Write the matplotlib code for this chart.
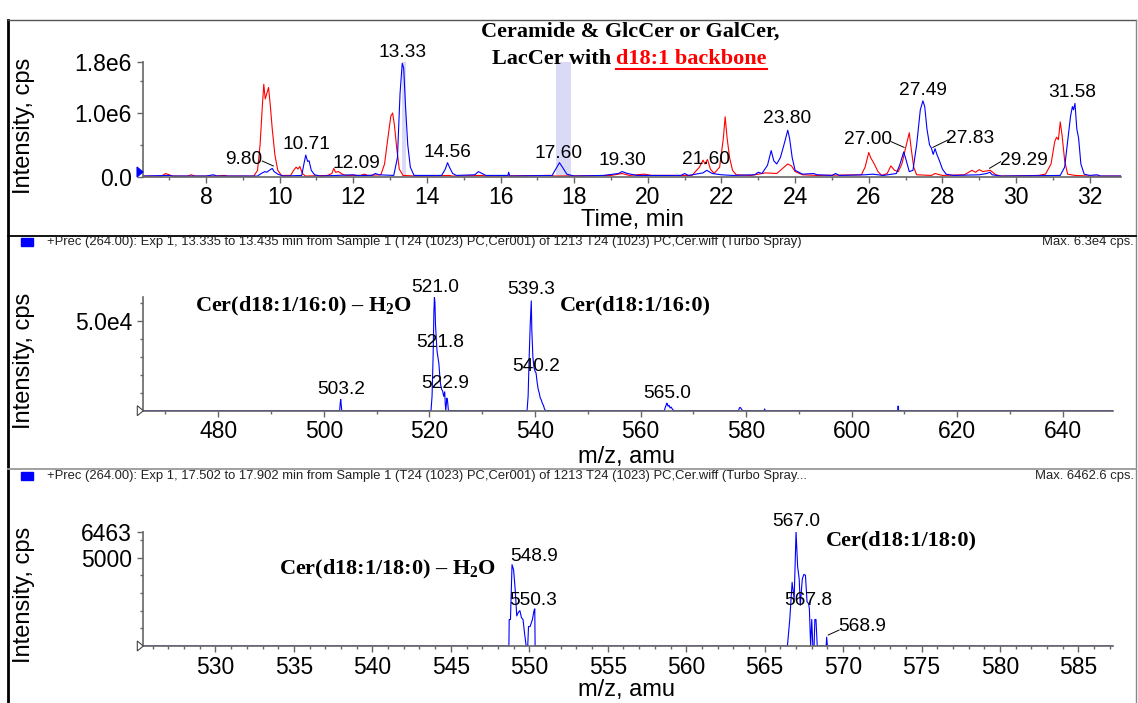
import matplotlib
matplotlib.use("Agg")
import matplotlib.pyplot as plt
from matplotlib.lines import Line2D
from matplotlib.patches import Polygon, Rectangle
from matplotlib.ticker import MultipleLocator, FixedLocator

plt.rcParams["font.family"] = ["Liberation Sans", "DejaVu Sans"]
plt.rcParams["mathtext.fontset"] = "custom"
plt.rcParams["mathtext.rm"] = "Liberation Serif:bold"
plt.rcParams["mathtext.it"] = "Liberation Serif:bold"
plt.rcParams["mathtext.bf"] = "Liberation Serif:bold"
plt.rcParams["mathtext.default"] = "rm"

W, H = 1138, 703

# ---- XIC, precursor 264 (intensity in 1e6 cps) ----
red_t = [6.3, 6.8, 6.9, 7.0, 7.1, 7.5, 7.6, 7.7, 8.2, 8.5, 8.6, 9.3,
         9.4, 9.47, 9.53, 9.57, 9.61, 9.65, 9.7, 9.75, 9.8, 9.87, 9.95, 10.05,
         10.3, 10.38, 10.45, 10.5, 10.55, 10.62, 10.7, 11.3, 11.42, 11.47, 11.52,
         11.6, 11.7, 11.8, 12.2, 12.3, 12.4, 12.75, 12.85, 12.95, 13.02, 13.07,
         13.12, 13.18, 13.25, 13.35, 13.7, 14.0, 14.6, 14.7, 15.5, 15.6, 17.3,
         17.5, 19.0, 19.3, 19.5, 19.9, 20.1, 21.2, 21.4, 21.5, 21.55, 21.62,
         21.7, 21.8, 21.95, 22.05, 22.1, 22.15, 22.22, 22.3, 22.4, 22.8, 23.0,
         23.2, 23.5, 23.7, 23.8, 23.9, 24.0, 24.2, 24.6, 25.8, 25.9, 26.0, 26.05,
         26.15, 26.25, 26.35, 26.5, 26.6, 26.7, 26.8, 26.9, 27.0, 27.1, 27.15,
         27.22, 27.3, 27.7, 27.8, 28.0, 28.6, 28.8, 28.9, 29.0, 29.1, 29.3,
         29.45, 29.6, 30.6, 30.8, 30.95, 31.05, 31.1, 31.15, 31.2, 31.25, 31.32,
         31.4, 31.6, 32.0, 32.85]
red_i = [0.01, 0.01, 0.05, 0.03, 0.01, 0.01, 0.03, 0.01, 0.01, 0.02, 0.01, 0.01,
         0.1, 0.5, 1.1, 1.45, 1.22, 1.3, 1.40, 1.1, 0.75, 0.35, 0.1, 0.02,
         0.02, 0.1, 0.15, 0.12, 0.16, 0.05, 0.01, 0.02, 0.05, 0.13, 0.07,
         0.08, 0.04, 0.02, 0.02, 0.04, 0.02, 0.03, 0.2, 0.65, 0.95, 1.0,
         0.8, 0.45, 0.12, 0.02, 0.01, 0.01, 0.02, 0.01, 0.02, 0.01, 0.02,
         0.01, 0.02, 0.05, 0.02, 0.04, 0.02, 0.02, 0.15, 0.26, 0.2, 0.27,
         0.12, 0.05, 0.15, 0.6, 0.94, 0.62, 0.3, 0.1, 0.03, 0.02, 0.04,
         0.06, 0.05, 0.15, 0.2, 0.17, 0.08, 0.03, 0.02, 0.03, 0.15, 0.38, 0.3,
         0.2, 0.08, 0.02, 0.05, 0.17, 0.1, 0.08, 0.2, 0.45, 0.69, 0.45,
         0.15, 0.03, 0.02, 0.05, 0.02, 0.03, 0.1, 0.07, 0.11, 0.08, 0.1,
         0.03, 0.01, 0.02, 0.04, 0.2, 0.55, 0.62, 0.58, 0.86, 0.65, 0.25,
         0.04, 0.02, 0.01, 0.01]

blue_t = [6.3, 7.0, 7.1, 8.0, 8.2, 8.3, 9.4, 9.5, 9.6, 9.65, 9.72, 9.8, 9.85,
          9.95, 10.1, 10.6, 10.66, 10.71, 10.76, 10.8, 10.86, 10.95, 11.1, 12.0,
          12.1, 12.5, 12.6, 12.7, 13.1, 13.2, 13.27, 13.33, 13.37, 13.42, 13.48,
          13.55, 13.65, 14.4, 14.5, 14.56, 14.62, 14.7, 14.8, 15.3, 15.4, 15.5,
          15.6, 16.2, 16.22, 16.25, 17.4, 17.5, 17.6, 17.68, 17.8, 18.0, 18.8,
          19.2, 19.3, 19.45, 19.7, 20.9, 21.0, 21.1, 21.5, 21.6, 21.75, 22.0,
          22.3, 22.9, 23.0, 23.1, 23.25, 23.35, 23.42, 23.5, 23.6, 23.72, 23.8,
          23.85, 23.92, 24.0, 24.2, 24.5, 24.6, 25.0, 25.1, 25.2, 25.9, 26.1,
          26.4, 26.75, 26.85, 26.95, 27.02, 27.1, 27.2, 27.3, 27.4, 27.47, 27.52,
          27.58, 27.65, 27.7, 27.75, 27.8, 27.85, 27.92, 28.0, 28.1, 28.3, 29.0,
          29.2, 29.29, 29.35, 29.6, 31.2, 31.32, 31.4, 31.48, 31.53, 31.56, 31.6,
          31.65, 31.7, 31.76, 31.85, 32.0, 32.2, 32.3, 32.85]
blue_i = [0.01, 0.02, 0.01, 0.01, 0.03, 0.01, 0.01, 0.05, 0.08, 0.07, 0.1, 0.13, 0.08,
          0.04, 0.01, 0.02, 0.2, 0.34, 0.24, 0.25, 0.1, 0.03, 0.01, 0.03,
          0.02, 0.02, 0.05, 0.03, 0.02, 0.3, 1.3, 1.78, 1.7, 1.1, 0.5,
          0.15, 0.02, 0.02, 0.12, 0.22, 0.14, 0.05, 0.02, 0.03, 0.08, 0.05,
          0.02, 0.02, 0.07, 0.01, 0.02, 0.12, 0.22, 0.15, 0.04, 0.01, 0.02,
          0.05, 0.08, 0.05, 0.02, 0.02, 0.05, 0.02, 0.06, 0.1, 0.05, 0.03,
          0.02, 0.03, 0.07, 0.05, 0.18, 0.41, 0.25, 0.2, 0.3, 0.55, 0.73,
          0.6, 0.3, 0.1, 0.04, 0.05, 0.03, 0.02, 0.05, 0.02, 0.03, 0.04,
          0.02, 0.05, 0.2, 0.39, 0.25, 0.08, 0.1, 0.5, 1.05, 1.19, 1.1,
          0.75, 0.5, 0.45, 0.35, 0.44, 0.35, 0.25, 0.12, 0.04, 0.02, 0.03,
          0.05, 0.07, 0.03, 0.01, 0.02, 0.15, 0.55, 0.95, 1.1, 1.05, 1.15,
          0.75, 0.6, 0.2, 0.04, 0.02, 0.03, 0.01, 0.01]

xic_labels = ["9.80", "10.71", "12.09", "13.33", "14.56", "17.60", "19.30",
              "21.60", "23.80", "27.00", "27.49", "27.83", "29.29", "31.58"]

# ---- MS spectrum at 13.335-13.435 min (cps) ----
ms1_mz = [465.8, 503.0, 503.1, 503.2, 503.3, 503.4, 520.3, 520.5, 520.7, 520.85,
          520.95, 521.05, 521.15, 521.3, 521.45, 521.6, 521.8, 521.95, 522.1,
          522.3, 522.5, 522.7, 522.9, 523.0, 523.1, 523.3, 523.45, 523.6, 538.5,
          538.7, 538.9, 539.1, 539.3, 539.4, 539.6, 539.8, 540.0, 540.2, 540.4,
          540.6, 540.8, 541.0, 541.2, 541.4, 541.6, 541.8, 542.0, 564.5, 564.7,
          564.9, 565.0, 565.2, 565.4, 565.6, 565.8, 566.0, 566.3, 578.6, 578.7,
          578.9, 579.1, 579.3, 583.4, 583.5, 583.6, 608.7, 608.8, 608.9, 649.5]
ms1_int = [0, 0, 4000, 6300, 3000, 0, 0, 8000, 30000, 55000,
           63000, 60000, 48000, 40000, 33000, 30000, 26000, 20000, 15000,
           12000, 11000, 8000, 10500, 4000, 0, 7000, 5000, 0, 0,
           8000, 30000, 48000, 61000, 45000, 30000, 24000, 22000, 21000, 16000,
           12000, 10000, 7000, 6000, 4000, 3000, 1000, 0, 0, 2000,
           3500, 4200, 2500, 3000, 1500, 2000, 1000, 0, 0, 1500,
           1800, 1000, 0, 0, 1000, 0, 0, 2600, 0, 0]
ms1_labels = ["503.2", "521.0", "521.8", "522.9", "539.3", "540.2", "565.0"]

# ---- MS spectrum at 17.502-17.902 min (cps) ----
ms2_mz = [525.4, 548.7, 548.72, 548.8, 548.9, 549.0, 549.1, 549.2, 549.3, 549.4,
          549.5, 549.6, 549.7, 549.8, 549.9, 549.95, 550.05, 550.2, 550.3, 550.35,
          550.37, 566.45, 566.6, 566.75, 566.88, 567.0, 567.1, 567.2, 567.27,
          567.4, 567.5, 567.6, 567.7, 567.8, 567.85, 567.93, 568.0, 568.07,
          568.15, 568.2, 568.27, 568.35, 568.92, 568.95, 569.0, 587.2]
ms2_int = [0, 0, 1500, 1500, 4600, 4300, 3200, 1700, 1900, 2000,
           1600, 1500, 700, 0, 0, 1100, 1100, 1500, 2000, 2100,
           0, 0, 1500, 3600, 2650, 6463, 4500, 3800, 2300,
           3800, 4050, 4000, 2500, 2400, 2100, 0, 1500, 0,
           0, 1500, 1500, 0, 0, 500, 0, 0]
ms2_labels = ["548.9", "550.3", "567.0", "567.8", "568.9"]

RED = "#ff0000"
BLUE = "#0000ff"
SPINE = "#666666"
BAND = "#dadaf7"

fig = plt.figure(figsize=(W / 100, H / 100), dpi=100)


def fx(x):
    return x / W


def fy(y):
    return 1 - y / H


def add_panel(left, right, top, bottom):
    ax = fig.add_axes([fx(left), fy(bottom), (right - left) / W, (bottom - top) / H])
    for s in ("top", "right"):
        ax.spines[s].set_visible(False)
    for s in ("left", "bottom"):
        ax.spines[s].set_color(SPINE)
        ax.spines[s].set_linewidth(1.2)
    ax.tick_params(which="both", colors=SPINE, labelcolor="black", labelsize=16.5, width=1)
    ax.tick_params(which="major", length=4, pad=3)
    ax.tick_params(which="minor", length=2.5)
    ax.tick_params(axis="y", pad=4)
    ax.patch.set_alpha(0)
    return ax


def fig_line(x0, y0, x1, y1, color="black", lw=1.0):
    fig.add_artist(Line2D([fx(x0), fx(x1)], [fy(y0), fy(y1)], color=color, lw=lw,
                          transform=fig.transFigure))


def baseline_marker(x, y, filled):
    pts = [(fx(x - 6), fy(y - 5)), (fx(x), fy(y)), (fx(x - 6), fy(y + 5))]
    fig.add_artist(Polygon(pts, closed=True, transform=fig.transFigure,
                           facecolor=BLUE if filled else "white",
                           edgecolor=BLUE if filled else "#444444", lw=0.8))


def header(y, text, maxtext):
    fig.add_artist(Rectangle((fx(21), fy(y + 4)), 12 / W, 8 / H, transform=fig.transFigure,
                             facecolor=BLUE, edgecolor=BLUE))
    fig.text(fx(47), fy(y), text, fontsize=9.4, va="center", ha="left", color="#222222")
    fig.text(fx(1134), fy(y), maxtext, fontsize=9.4, va="center", ha="right", color="#222222")


def leader(ax, x0, y0, x1, y1):
    ax.plot([x0, x1], [y0, y1], color="black", lw=0.7, clip_on=False)


serif_bold = dict(family="Liberation Serif", weight="bold", fontsize=16)
peak_fs = 13.8

# frame
fig_line(8, 20, 8, 703, color="black", lw=2)
fig_line(8, 20, 1136, 20, color="#555555", lw=1)
fig_line(1135.5, 20, 1135.5, 703, color="#888888", lw=1)
fig_line(8, 236.5, 1136, 236.5, color="black", lw=1.3)
fig_line(8, 468.5, 1136, 468.5, color="#999999", lw=1.3)

# ---------------- panel 1: chromatogram ----------------
ax1 = add_panel(143, 1121, 62, 176.7)
ax1.axvspan(13.335, 13.435, color=BAND, lw=0, zorder=0)
ax1.axvspan(17.502, 17.902, color=BAND, lw=0, zorder=0)
ax1.plot(red_t, red_i, color=RED, lw=0.8)
ax1.plot(blue_t, blue_i, color=BLUE, lw=0.8)
ax1.set_xlim(6.29, 32.85)
ax1.set_ylim(0, 1.8)
ax1.xaxis.set_major_locator(FixedLocator(list(range(8, 33, 2))))
ax1.xaxis.set_minor_locator(MultipleLocator(1))
ax1.yaxis.set_major_locator(FixedLocator([0, 1.0, 1.8]))
ax1.set_yticklabels(["0.0", "1.0e6", "1.8e6"])
ax1.yaxis.set_minor_locator(FixedLocator([0.5, 1.5]))

xic_pos = [(9.02, 0.27), (10.73, 0.50), (12.08, 0.21), (13.35, 1.95), (14.57, 0.38),
           (17.57, 0.36), (19.32, 0.25), (21.57, 0.27), (23.78, 0.92), (25.98, 0.58),
           (27.47, 1.36), (28.75, 0.60), (30.22, 0.25), (31.52, 1.32)]
for lab, (x, y) in zip(xic_labels, xic_pos):
    ax1.text(x, y, lab, fontsize=peak_fs, ha="center", va="center")
leader(ax1, 9.53, 0.246, 9.83, 0.168)
leader(ax1, 26.61, 0.549, 26.96, 0.46)
leader(ax1, 28.15, 0.576, 27.74, 0.46)
leader(ax1, 29.58, 0.235, 29.28, 0.132)

fig.text(fx(23.6), fy(126), "Intensity, cps", rotation=90, fontsize=17, ha="center", va="center")
fig.text(fx(632), fy(220), "Time, min", fontsize=17, ha="center", va="center")
baseline_marker(143, 172, True)

# title
fig.text(fx(630), fy(32), "Ceramide & GlcCer or GalCer,", ha="center", va="center", **serif_bold)
t_black = fig.text(fx(491.6), fy(59), "LacCer with ", ha="left", va="center", **serif_bold)
fig.canvas.draw()
bb = t_black.get_window_extent()
t_red = fig.text(bb.x1 / W, fy(59), "d18:1 backbone", ha="left", va="center",
                 color=RED, **serif_bold)
fig.canvas.draw()
rb = t_red.get_window_extent()
fig.add_artist(Line2D([rb.x0 / W, rb.x1 / W], [fy(68.5), fy(68.5)], color=RED, lw=1.5,
                      transform=fig.transFigure))

# ---------------- panel 2: spectrum 13.3 min ----------------
header(242, "+Prec (264.00): Exp 1, 13.335 to 13.435 min from Sample 1 (T24 (1023) PC,Cer001) "
            "of 1213 T24 (1023) PC,Cer.wiff (Turbo Spray)", "Max. 6.3e4 cps.")
ax2 = add_panel(143.3, 1113, 297.3, 410.7)
ax2.plot(ms1_mz, ms1_int, color=BLUE, lw=0.8)
ax2.set_xlim(465.8, 649.5)
ax2.set_ylim(0, 63000)
ax2.xaxis.set_major_locator(MultipleLocator(20))
ax2.xaxis.set_minor_locator(MultipleLocator(10))
ax2.yaxis.set_major_locator(FixedLocator([50000]))
ax2.set_yticklabels(["5.0e4"])
ax2.yaxis.set_minor_locator(FixedLocator([10000, 20000, 30000, 40000, 60000]))

ms1_pos = [(503.2, 11500), (521.1, 68600), (522.0, 37800), (523.0, 15200),
           (539.35, 67400), (540.26, 24800), (565.0, 9700)]
for lab, (x, y) in zip(ms1_labels, ms1_pos):
    ax2.text(x, y, lab, fontsize=peak_fs, ha="center", va="center")
ax2.text(516.8, 57800, "Cer(d18:1/16:0) – H$_2$O", ha="right", va="center", **serif_bold)
ax2.text(544.7, 58700, "Cer(d18:1/16:0)", ha="left", va="center", **serif_bold)

fig.text(fx(23.6), fy(361), "Intensity, cps", rotation=90, fontsize=17, ha="center", va="center")
fig.text(fx(627), fy(456.7), "m/z, amu", fontsize=17, ha="center", va="center")
baseline_marker(143.3, 410.7, False)

# ---------------- panel 3: spectrum 17.6 min ----------------
header(476, "+Prec (264.00): Exp 1, 17.502 to 17.902 min from Sample 1 (T24 (1023) PC,Cer001) "
            "of 1213 T24 (1023) PC,Cer.wiff (Turbo Spray...", "Max. 6462.6 cps.")
ax3 = add_panel(143.3, 1113, 531.7, 646)
ax3.plot(ms2_mz, ms2_int, color=BLUE, lw=0.8)
ax3.set_xlim(525.4, 587.2)
ax3.set_ylim(0, 6463)
ax3.xaxis.set_major_locator(MultipleLocator(5))
ax3.xaxis.set_minor_locator(MultipleLocator(1))
ax3.yaxis.set_major_locator(FixedLocator([5000, 6463]))
ax3.set_yticklabels(["5000", "6463"])
ax3.yaxis.set_minor_locator(FixedLocator([1000, 2000, 3000, 4000, 6000]))

ms2_pos = [(550.3, 5050), (550.26, 2600), (566.98, 7030), (567.8, 2600), (571.22, 1090)]
for lab, (x, y) in zip(ms2_labels, ms2_pos):
    ax3.text(x, y, lab, fontsize=peak_fs, ha="center", va="center")
leader(ax3, 569.74, 900, 569.05, 620)
ax3.text(547.85, 4300, "Cer(d18:1/18:0) – H$_2$O", ha="right", va="center", **serif_bold)
ax3.text(568.9, 5990, "Cer(d18:1/18:0)", ha="left", va="center", **serif_bold)

fig.text(fx(23.6), fy(595), "Intensity, cps", rotation=90, fontsize=17, ha="center", va="center")
fig.text(fx(627), fy(690), "m/z, amu", fontsize=17, ha="center", va="center")
baseline_marker(143.3, 646, False)

fig.savefig("out.png", dpi=100)
